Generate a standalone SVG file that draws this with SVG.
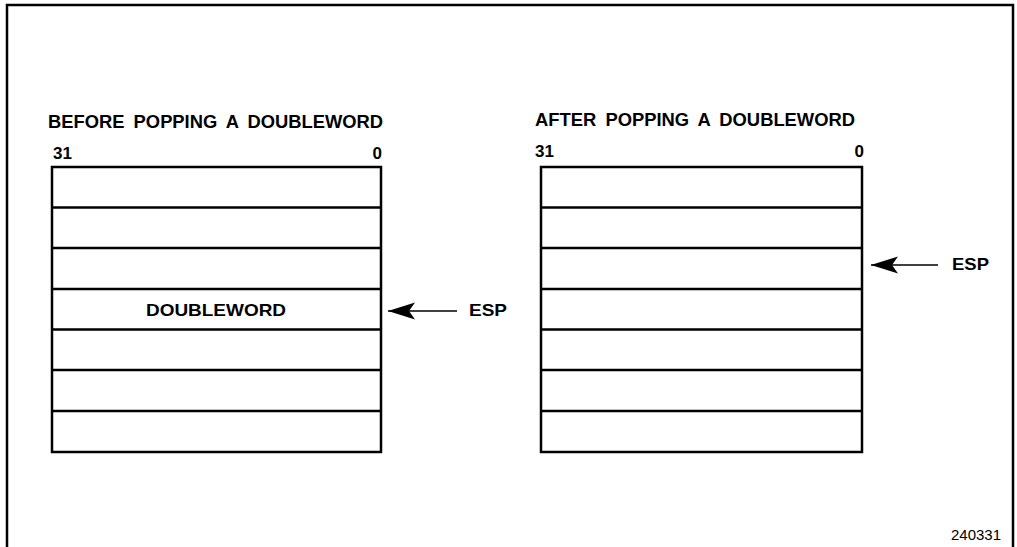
<svg xmlns="http://www.w3.org/2000/svg" width="1017" height="547" viewBox="0 0 1017 547">
  <style>
    .frame { fill: none; stroke: #000; stroke-width: 2.5; }
    .cell { fill: #fff; stroke: #000; stroke-width: 2.5; }
    .title { font-family: "Liberation Sans", Arial, sans-serif; font-weight: bold; font-size: 18px; fill: #000; word-spacing: 4px; }
    .bit { font-family: "Liberation Sans", Arial, sans-serif; font-weight: bold; font-size: 17px; fill: #000; }
    .label { font-family: "Liberation Sans", Arial, sans-serif; font-weight: bold; font-size: 16.5px; fill: #000; }
    .fig { font-family: "Liberation Sans", Arial, sans-serif; font-size: 14px; fill: #000; }
    .ptr { stroke: #000; stroke-width: 1.3; fill: none; }
  </style>
  <defs>
    <!-- barbed arrowhead; tip sits at the line's end point -->
    <marker id="head" markerUnits="userSpaceOnUse" viewBox="0 0 28 18" markerWidth="28" markerHeight="18" refX="27" refY="9" orient="auto">
      <path d="M27,9 L0,0.5 L6,9 L0,17.5 Z" fill="#000"/>
    </marker>
  </defs>

  <rect fill="#fff" x="0" y="0" width="1017" height="547"/>

  <!-- page frame (open at the bottom edge) -->
  <path class="frame" d="M7,560 L7,5 L1013,5 L1013,560"/>

  <!-- stack before the pop -->
  <g id="stack-before">
    <text class="title" x="48" y="128" textLength="335" lengthAdjust="spacingAndGlyphs">BEFORE POPPING A DOUBLEWORD</text>
    <text class="bit" x="53" y="159">31</text>
    <text class="bit" x="382" y="159" text-anchor="end">0</text>
    <rect class="cell" x="52" y="167" width="329" height="285"/>
    <path class="cell" d="M52,207.5 H381 M52,248 H381 M52,289 H381 M52,329.5 H381 M52,370 H381 M52,411 H381"/>
    <text class="label" x="216" y="315.5" text-anchor="middle" textLength="140" lengthAdjust="spacingAndGlyphs">DOUBLEWORD</text>
  </g>

  <!-- stack after the pop -->
  <g id="stack-after">
    <text class="title" x="535" y="126" textLength="320" lengthAdjust="spacingAndGlyphs">AFTER POPPING A DOUBLEWORD</text>
    <text class="bit" x="535" y="157">31</text>
    <text class="bit" x="864" y="157" text-anchor="end">0</text>
    <rect class="cell" x="541" y="167" width="321" height="285"/>
    <path class="cell" d="M541,207.5 H862 M541,248 H862 M541,289 H862 M541,329.5 H862 M541,370 H862 M541,411 H862"/>
  </g>

  <!-- stack pointer labels -->
  <g id="esp-before">
    <text class="label" x="469" y="316" textLength="38" lengthAdjust="spacingAndGlyphs">ESP</text>
  </g>
  <g id="esp-after">
    <text class="label" x="952" y="270" textLength="37" lengthAdjust="spacingAndGlyphs">ESP</text>
  </g>

  <g id="connectors">
    <line class="ptr" x1="457" y1="311" x2="388" y2="311" marker-end="url(#head)"/>
    <line class="ptr" x1="938" y1="265" x2="871" y2="265" marker-end="url(#head)"/>
  </g>

  <text id="fig-number" class="fig" x="1001" y="540" text-anchor="end" textLength="50" lengthAdjust="spacingAndGlyphs">240331</text>
</svg>
